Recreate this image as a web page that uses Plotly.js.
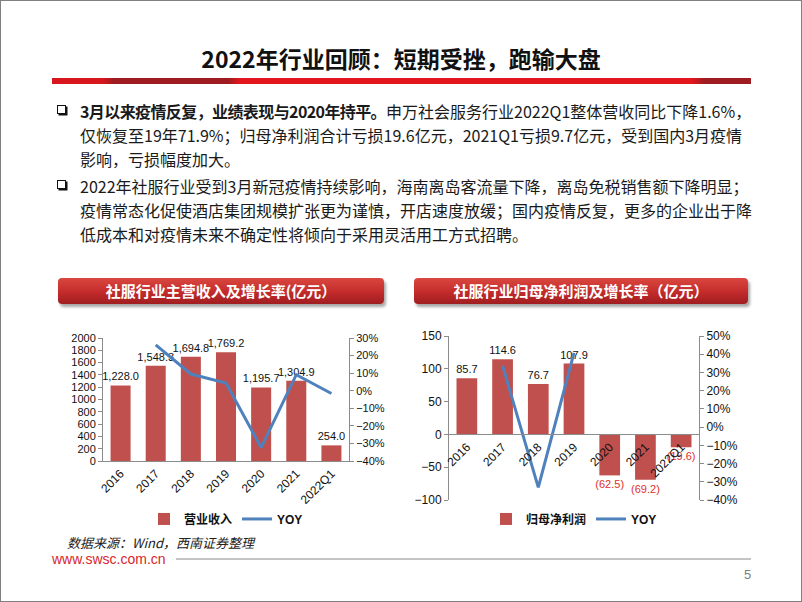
<!DOCTYPE html>
<html>
<head>
<meta charset="utf-8">
<script src="https://cdn.plot.ly/plotly-3.0.1.min.js"></script>
<style>
  body { margin: 0; background: #fff; font-family: "Noto Sans CJK SC", "Noto Sans", sans-serif; }
  #page { position: absolute; left: 0; top: 0; width: 800px; height: 600px; border: 1px solid #808080; overflow: hidden; background: #fff; }
  .abs { position: absolute; white-space: nowrap; }
  #titre { left: 0; width: 800px; top: 42px; text-align: center; font-size: 23px; font-weight: bold; line-height: 30px; color: #111; }
  #barre { left: 51px; top: 77px; width: 699px; height: 6px;
    background: linear-gradient(to right, #d8161d 0px, #d8161d 50px, #9e1b1f 62px, #9e1b1f 176px, #e3161d 188px, #e3161d 640px, #9e1b1f 652px, #9e1b1f 699px); }
  .puce { position: absolute; width: 7px; height: 7px; border: 1.5px solid #111; box-shadow: 1.5px 1.5px 0 #111; background: #fff; }
  .para { left: 79px; font-size: 16px; line-height: 24px; color: #1a1a1a; }
  .para b { letter-spacing: -0.6px; }
  .bandeau { height: 26px; border-radius: 4px; color: #fff; font-weight: bold; font-size: 15px; line-height: 26px; text-align: center;
    background: linear-gradient(to bottom, #d9473f 0%, #c32b2b 55%, #9f1d20 100%); box-shadow: 2px 3px 3px rgba(0,0,0,0.35); }
  #source { left: 66px; top: 532px; font-size: 13px; font-style: italic; color: #222; line-height: 20px; }
  #site { left: 51px; top: 549px; font-family: "Liberation Sans", Arial, sans-serif; font-size: 14px; color: #d7262c; line-height: 18px; }
  #trait { left: 175px; top: 557px; width: 575px; height: 1.5px; background: #c4c4c4; }
  #page_num { left: 743px; top: 566px; font-family: "Liberation Sans", Arial, sans-serif; font-size: 13px; color: #808080; line-height: 16px; }
  .graph { position: absolute; }
</style>
</head>
<body>
<div id="page">
  <div id="titre" class="abs">2022年行业回顾：短期受挫，跑输大盘</div>
  <div id="barre" class="abs"></div>

  <div class="puce" style="left:56px; top:104px;"></div>
  <div class="abs para" style="top:98px;">
    <div><b>3月以来疫情反复，业绩表现与2020年持平。</b>申万社会服务行业2022Q1整体营收同比下降1.6%，</div>
    <div>仅恢复至19年71.9%；归母净利润合计亏损19.6亿元，2021Q1亏损9.7亿元，受到国内3月疫情</div>
    <div>影响，亏损幅度加大。</div>
  </div>

  <div class="puce" style="left:56px; top:179px;"></div>
  <div class="abs para" style="top:173px;">
    <div>2022年社服行业受到3月新冠疫情持续影响，海南离岛客流量下降，离岛免税销售额下降明显；</div>
    <div>疫情常态化促使酒店集团规模扩张更为谨慎，开店速度放缓；国内疫情反复，更多的企业出于降</div>
    <div>低成本和对疫情未来不确定性将倾向于采用灵活用工方式招聘。</div>
  </div>

  <div class="abs bandeau" style="left:57px; top:277px; width:326px;">社服行业主营收入及增长率(亿元）</div>
  <div class="abs bandeau" style="left:413px; top:277px; width:334px;">社服行业归母净利润及增长率（亿元）</div>

  <div id="graph_revenu" class="graph" style="left:50px; top:315px; width:345px; height:215px;"></div>
  <div id="graph_profit" class="graph" style="left:400px; top:315px; width:355px; height:215px;"></div>

  <div id="source" class="abs">数据来源：Wind，西南证券整理</div>
  <div id="site" class="abs">www.swsc.com.cn</div>
  <div id="trait" class="abs"></div>
  <div id="page_num" class="abs">5</div>
</div>

<script>
// Données
const annees = ["2016", "2017", "2018", "2019", "2020", "2021", "2022Q1"];
const revenu = [1228.0, 1548.3, 1694.8, 1769.2, 1195.7, 1304.9, 254.0];
const revenu_yoy = [null, 26.1, 9.5, 4.4, -32.4, 9.1, -1.6];
const profit = [85.7, 114.6, 76.7, 107.9, -62.5, -69.2, -19.6];
const profit_yoy = [null, 33.7, -33.1, 40.7, null, null, null];

const police = '"Liberation Sans", Arial, "Noto Sans CJK SC", sans-serif';
const rouge_barre = "#c0504d";
const bleu_ligne = "#4f81bd";
const gris_axe = "#8c8c8c";

function axe_y(range, dtick, suffixe, taille) {
    return {
        range: range, dtick: dtick, ticksuffix: suffixe,
        showgrid: false, zeroline: false,
        showline: true, linecolor: gris_axe, linewidth: 1,
        ticks: "outside", ticklen: 4, tickcolor: gris_axe,
        tickfont: {family: police, size: taille, color: "#111"},
        automargin: false, fixedrange: true
    };
}

function legende() {
    // légende placée dans le conteneur pour ne pas pousser les marges
    return {
        orientation: "h", xref: "paper", x: 0.5, xanchor: "center",
        yref: "container", y: 0.056, yanchor: "middle",
        font: {family: police, size: 12, color: "#111", weight: "bold"},
        itemwidth: 30, traceorder: "normal"
    };
}

// Premier graphique : revenu et croissance
function graphique_revenu() {
    let textes = revenu.map(v => v.toLocaleString("en-US", {minimumFractionDigits: 1, maximumFractionDigits: 1}));

    let donnee = [{
        x: annees, y: revenu, type: "bar", name: "营业收入",
        marker: {color: rouge_barre},
        text: textes, textposition: "outside", textangle: 0, constraintext: "none", cliponaxis: false,
        textfont: {family: police, size: 11, color: "#111"}
    }, {
        x: annees, y: revenu_yoy, type: "scatter", mode: "lines", name: "YOY", yaxis: "y2",
        line: {color: bleu_ligne, width: 3}, connectgaps: false, cliponaxis: false
    }];

    let apparence = {
        width: 345, height: 215,
        margin: {l: 52, r: 47, t: 22, b: 70},
        paper_bgcolor: "rgba(0,0,0,0)", plot_bgcolor: "rgba(0,0,0,0)",
        bargap: 0.43, showlegend: true,
        font: {family: police, size: 11, color: "#111"},
        xaxis: {
            type: "category", showgrid: false, zeroline: false,
            showline: true, linecolor: gris_axe, ticks: "",
            tickangle: -45, tickfont: {family: police, size: 12, color: "#111"},
            automargin: false, fixedrange: true
        },
        yaxis: axe_y([0, 2000], 200, "", 11),
        yaxis2: Object.assign(axe_y([-40, 30], 10, "%", 11), {overlaying: "y", side: "right", anchor: "x"}),
        legend: legende()
    };

    Plotly.newPlot("graph_revenu", donnee, apparence, {staticPlot: true});
}

// Second graphique : bénéfice net et croissance
function graphique_profit() {
    let textes = profit.map(v => v < 0 ? "(" + Math.abs(v).toFixed(1) + ")" : v.toFixed(1));
    let couleurs = profit.map(v => v < 0 ? "#e0302c" : "#111");

    let donnee = [{
        x: annees, y: profit, type: "bar", name: "归母净利润",
        marker: {color: rouge_barre},
        text: textes, textposition: "outside", textangle: 0, constraintext: "none", cliponaxis: false,
        textfont: {family: police, size: 11, color: couleurs}
    }, {
        x: annees, y: profit_yoy, type: "scatter", mode: "lines", name: "YOY", yaxis: "y2",
        line: {color: bleu_ligne, width: 3}, connectgaps: false, cliponaxis: false
    }];

    // l'axe des x passe par y = 0
    let position_zero = (0 - (-100)) / (150 - (-100));

    let apparence = {
        width: 355, height: 215,
        margin: {l: 48, r: 57, t: 20, b: 31},
        paper_bgcolor: "rgba(0,0,0,0)", plot_bgcolor: "rgba(0,0,0,0)",
        bargap: 0.42, showlegend: true,
        font: {family: police, size: 12, color: "#111"},
        xaxis: {
            type: "category", showgrid: false, zeroline: false,
            anchor: "free", position: position_zero,
            showline: true, linecolor: gris_axe, ticks: "",
            tickangle: -45, tickfont: {family: police, size: 12, color: "#111"},
            automargin: false, fixedrange: true
        },
        yaxis: axe_y([-100, 150], 50, "", 12),
        yaxis2: Object.assign(axe_y([-40, 50], 10, "%", 12), {overlaying: "y", side: "right", anchor: "x"}),
        legend: legende()
    };

    Plotly.newPlot("graph_profit", donnee, apparence, {staticPlot: true});
}

graphique_revenu();
graphique_profit();
</script>
</body>
</html>
